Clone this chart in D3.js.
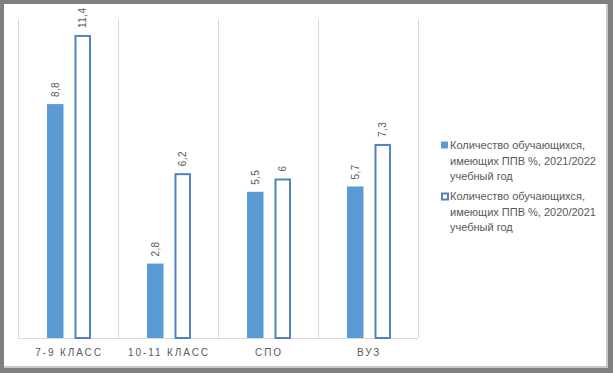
<!DOCTYPE html>
<html>
<head>
<meta charset="utf-8">
<script src="https://cdn.jsdelivr.net/npm/d3@7"></script>
<style>
  body { margin: 0; background: #7f7f7f; }
  svg { display: block; }
</style>
</head>
<body>
<svg id="chart"></svg>
<script>
const categories = ['7-9 КЛАСС', '10-11 КЛАСС', 'СПО', 'ВУЗ'];
const values2122 = [8.8, 2.8, 5.5, 5.7];
const values2021 = [11.4, 6.2, 6, 7.3];
const seriesNames = [
    ['Количество обучающихся,', 'имеющих ППВ %, 2021/2022', 'учебный год'],
    ['Количество обучающихся,', 'имеющих ППВ %, 2020/2021', 'учебный год']
];

const width = 613;
const height = 373;
const margin = { top: 19, left: 18, right: 195, bottom: 35 };

const svg = d3.select('#chart')
    .attr('width', width)
    .attr('height', height);

// white panel with light shadow on right/bottom
svg.append('rect')
    .attr('x', 4).attr('y', 4)
    .attr('width', 604).attr('height', 364)
    .attr('fill', '#c8c8c8');
svg.append('rect')
    .attr('x', 4).attr('y', 4)
    .attr('width', 602).attr('height', 362)
    .attr('fill', '#ffffff');

const plotBottom = height - margin.bottom;

const x0 = d3.scaleBand()
    .domain(categories)
    .range([margin.left, width - margin.right])
    .padding(0);

const x1 = d3.scaleBand()
    .domain([0, 1])
    .range([1, x0.bandwidth() + 1])
    .paddingInner(0.4)
    .paddingOuter(1.02);

const y = d3.scaleLinear()
    .domain([0, 12])
    .range([plotBottom, margin.top]);

const grey = '#595959';

// vertical category separators
const bounds = categories.map(c => x0(c)).concat([x0(categories[categories.length - 1]) + x0.bandwidth()]);
svg.append('g')
    .selectAll('line')
    .data(bounds)
    .enter()
    .append('line')
    .attr('x1', d => d + 0.5)
    .attr('x2', d => d + 0.5)
    .attr('y1', margin.top)
    .attr('y2', plotBottom)
    .attr('stroke', '#d9d9d9')
    .attr('stroke-width', 1);

// baseline
svg.append('line')
    .attr('x1', margin.left)
    .attr('x2', width - margin.right)
    .attr('y1', plotBottom + 0.5)
    .attr('y2', plotBottom + 0.5)
    .attr('stroke', '#d9d9d9');

const rows = categories.map((c, i) => ({ cat: c, a: values2122[i], b: values2021[i] }));

// filled bars 2021/2022
svg.append('g')
    .selectAll('rect')
    .data(rows)
    .enter()
    .append('rect')
    .attr('x', d => x0(d.cat) + x1(0))
    .attr('y', d => y(d.a))
    .attr('width', x1.bandwidth())
    .attr('height', d => y(0) - y(d.a))
    .attr('fill', '#5b9bd5');

// hollow bars 2020/2021
svg.append('g')
    .selectAll('rect')
    .data(rows)
    .enter()
    .append('rect')
    .attr('x', d => x0(d.cat) + x1(1) + 1)
    .attr('y', d => y(d.b) + 1)
    .attr('width', x1.bandwidth() - 2)
    .attr('height', d => y(0) - y(d.b) - 1)
    .attr('fill', '#ffffff')
    .attr('stroke', '#5083c0')
    .attr('stroke-width', 2);

// rotated value labels
const fmt = v => String(v).replace('.', ',');
function addLabels(key, idx) {
    svg.append('g')
        .selectAll('text')
        .data(rows)
        .enter()
        .append('text')
        .attr('transform', d => `translate(${x0(d.cat) + x1(idx) + x1.bandwidth() / 2 + 3.5}, ${y(d[key]) - 7}) rotate(-90)`)
        .attr('text-anchor', 'start')
        .style('font-family', 'Liberation Sans, Arial, sans-serif')
        .style('font-size', '10px')
        .style('letter-spacing', '0.4px')
        .style('fill', grey)
        .text(d => fmt(d[key]));
}
addLabels('a', 0);
addLabels('b', 1);

// category labels
svg.append('g')
    .selectAll('text')
    .data(categories)
    .enter()
    .append('text')
    .attr('x', d => x0(d) + x0.bandwidth() / 2 + 1)
    .attr('y', plotBottom + 18)
    .attr('text-anchor', 'middle')
    .style('font-family', 'Liberation Sans, Arial, sans-serif')
    .style('font-size', '10px')
    .style('letter-spacing', '1.9px')
    .style('fill', grey)
    .text(d => d);

// legend
const legend = svg.append('g')
    .attr('transform', 'translate(441, 145)');

seriesNames.forEach((lines, i) => {
    const g = legend.append('g').attr('transform', `translate(0, ${i * 51})`);
    if (i === 0) {
        g.append('rect')
            .attr('x', 0).attr('y', -3.5)
            .attr('width', 7).attr('height', 7)
            .attr('fill', '#5b9bd5');
    } else {
        g.append('rect')
            .attr('x', 1).attr('y', -2.5)
            .attr('width', 6).attr('height', 6)
            .attr('fill', '#ffffff')
            .attr('stroke', '#5083c0')
            .attr('stroke-width', 2);
    }
    lines.forEach((t, j) => {
        g.append('text')
            .attr('x', 9)
            .attr('y', j * 15.5 + 4)
            .style('font-family', 'Liberation Sans, Arial, sans-serif')
            .style('font-size', '11px')
            .style('fill', grey)
            .text(t);
    });
});
</script>
</body>
</html>
